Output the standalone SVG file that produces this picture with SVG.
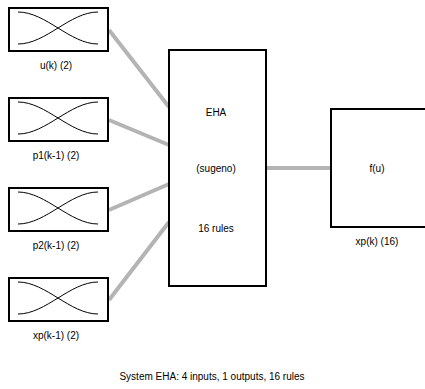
<svg xmlns="http://www.w3.org/2000/svg" width="425" height="389" viewBox="0 0 425 389">
<style>
.box{fill:#fff;stroke:#000;stroke-width:2}
.mf{fill:none;stroke:#000;stroke-width:1}
.lbl{font-family:"Liberation Sans",Arial,sans-serif;font-size:10px;fill:#000;text-anchor:middle}
.con{stroke:#b4b4b4;stroke-width:4;fill:none}
</style>
<defs>
<g id="mfs">
<path class="mf" d="M18,12 C46,12 70,44 98,44"/>
<path class="mf" d="M18,44 C46,44 70,12 98,12"/>
</g>
</defs>
<rect width="425" height="389" fill="#fff"/>
<g id="connectors">
<line class="con" x1="109" y1="30" x2="169" y2="107"/>
<line class="con" x1="109" y1="120" x2="169" y2="145"/>
<line class="con" x1="109" y1="210" x2="169" y2="184"/>
<line class="con" x1="109" y1="300" x2="169" y2="222"/>
<line class="con" x1="267" y1="168" x2="331" y2="168"/>
</g>
<g id="in1">
<rect class="box" x="9" y="8" width="99" height="43"/>
<use href="#mfs"/>
<text class="lbl" x="56" y="69">u(k) (2)</text>
</g>
<g id="in2">
<rect class="box" x="9" y="98" width="99" height="43"/>
<use href="#mfs" y="90"/>
<text class="lbl" x="56" y="159">p1(k-1) (2)</text>
</g>
<g id="in3">
<rect class="box" x="9" y="188" width="99" height="43"/>
<use href="#mfs" y="180"/>
<text class="lbl" x="56" y="249">p2(k-1) (2)</text>
</g>
<g id="in4">
<rect class="box" x="9" y="278" width="99" height="43"/>
<use href="#mfs" y="270"/>
<text class="lbl" x="56" y="339">xp(k-1) (2)</text>
</g>
<g id="eha">
<rect class="box" x="169" y="50" width="97" height="236"/>
<text class="lbl" x="216" y="116">EHA</text>
<text class="lbl" x="216" y="172">(sugeno)</text>
<text class="lbl" x="216" y="232">16 rules</text>
</g>
<g id="out">
<rect class="box" x="331" y="109" width="100" height="118"/>
<text class="lbl" x="377" y="172">f(u)</text>
<text class="lbl" x="377" y="245">xp(k) (16)</text>
</g>
<text class="lbl" x="212" y="380">System EHA: 4 inputs, 1 outputs, 16 rules</text>
</svg>
